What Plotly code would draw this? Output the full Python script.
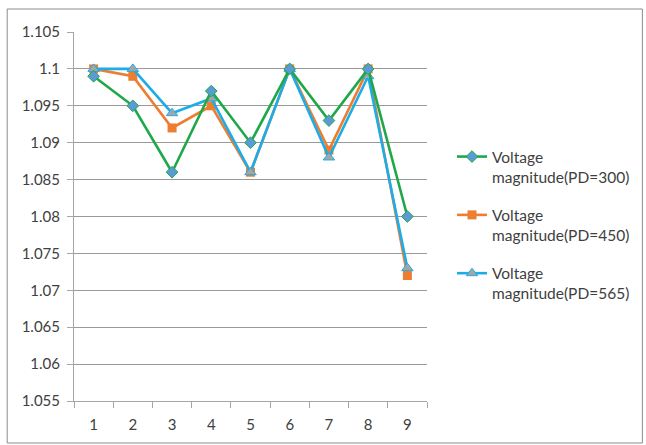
import plotly.graph_objects as go

buses = [1, 2, 3, 4, 5, 6, 7, 8, 9]
v_pd300 = [1.099, 1.095, 1.086, 1.097, 1.090, 1.100, 1.093, 1.100, 1.080]
v_pd450 = [1.100, 1.099, 1.092, 1.095, 1.086, 1.100, 1.089, 1.100, 1.072]
v_pd565 = [1.100, 1.100, 1.094, 1.096, 1.086, 1.100, 1.088, 1.099, 1.073]
y_ticks = [1.055, 1.06, 1.065, 1.07, 1.075, 1.08, 1.085, 1.09, 1.095, 1.1, 1.105]
y_labels = ["1.055", "1.06", "1.065", "1.07", "1.075", "1.08", "1.085", "1.09", "1.095", "1.1", "1.105"]

FONT = "Lato, Open Sans, sans-serif"
W, H = 646, 445
L, R, T, B = 74, 218, 32, 44
pw, ph = W - L - R, H - T - B

fig = go.Figure()
fig.add_trace(go.Scatter(
    x=buses, y=v_pd450, mode="lines+markers",
    name="Voltage<br>magnitude(PD=450)", legendgroup="g450", legendrank=2,
    line=dict(color="#ED7D31", width=2.6),
    marker=dict(symbol="square", size=9, color="#ED7D31"),
))
fig.add_trace(go.Scatter(
    x=buses, y=v_pd565, mode="lines+markers",
    name="Voltage<br>magnitude(PD=565)", legendgroup="g565", legendrank=3,
    line=dict(color="#1CADE8", width=2.6),
    marker=dict(symbol="triangle-up", size=10, color="#A5A5A5",
                line=dict(color="#1CADE8", width=1)),
))
fig.add_trace(go.Scatter(
    x=buses, y=v_pd300, mode="lines+markers",
    name="Voltage<br>magnitude(PD=300)", legendgroup="g300", legendrank=1,
    line=dict(color="#1FA84A", width=2.6),
    marker=dict(symbol="diamond", size=9, color="#5B9BD5",
                line=dict(color="#1FA84A", width=1)),
))

# outer chart border
fig.add_shape(type="rect", xref="paper", yref="paper",
              x0=(7 - L) / pw, x1=(644 - L) / pw,
              y0=(H - B - 443) / ph, y1=(H - B - 9) / ph,
              line=dict(color="#8C8C8C", width=1), layer="below")

fig.update_layout(
    width=W, height=H,
    margin=dict(l=L, r=R, t=T, b=B),
    paper_bgcolor="white", plot_bgcolor="white",
    font=dict(family=FONT, size=14, color="#404040"),
    showlegend=True,
    legend=dict(
        x=(452 - L) / pw, y=(H - B - 140) / ph, xanchor="left", yanchor="top",
        traceorder="grouped", valign="top",
        font=dict(family=FONT, size=15.5, color="#404040"),
        tracegroupgap=15, itemwidth=30,
    ),
    xaxis=dict(
        range=[0.5, 9.5], tickmode="array", tickvals=buses,
        ticktext=[str(b) for b in buses], ticks="",
        showgrid=False, showline=True, linecolor="#A6A6A6", linewidth=1,
        zeroline=False, ticklabelstandoff=10,
        minor=dict(tickmode="linear", tick0=0.5, dtick=1, ticks="outside",
                   ticklen=6, tickcolor="#A6A6A6", showgrid=False),
        tickfont=dict(size=15),
    ),
    yaxis=dict(
        range=[1.055, 1.105], tickmode="array", tickvals=y_ticks, ticktext=y_labels,
        ticks="outside", ticklen=6, tickcolor="#A6A6A6",
        showgrid=True, gridcolor="#9A9A9A", gridwidth=1,
        showline=True, linecolor="#A6A6A6", linewidth=1, zeroline=False,
        ticklabelstandoff=4,
        tickfont=dict(size=15),
    ),
)

fig.write_html("out.html")
